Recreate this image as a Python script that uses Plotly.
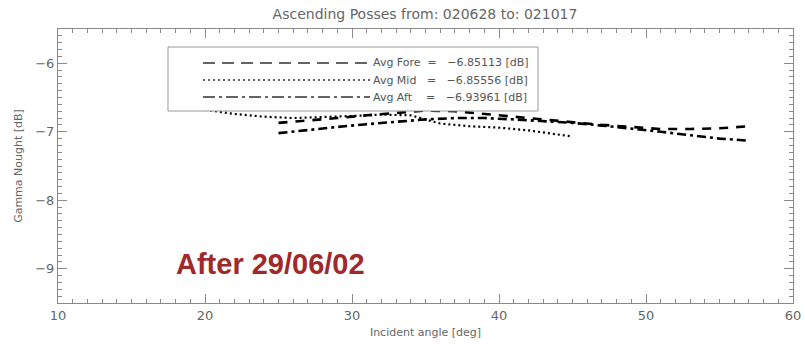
import plotly.graph_objects as go

# ---- data ----
fore_x = [25, 27, 29, 31, 33, 35, 37, 39, 41, 43, 45, 47, 49, 51, 53, 55, 57]
fore_y = [-6.87, -6.84, -6.80, -6.76, -6.72, -6.69, -6.70, -6.74, -6.79, -6.83,
          -6.87, -6.90, -6.93, -6.96, -6.96, -6.95, -6.92]

mid_x = [19, 20, 22, 24, 26, 28, 30, 32, 34, 35, 36, 38, 40, 42, 44, 45]
mid_y = [-6.64, -6.68, -6.74, -6.78, -6.80, -6.79, -6.77, -6.75, -6.76, -6.82,
         -6.88, -6.92, -6.94, -6.98, -7.04, -7.07]

aft_x = [25, 27, 29, 31, 33, 35, 37, 39, 41, 43, 45, 47, 49, 51, 53, 55, 57]
aft_y = [-7.02, -6.97, -6.93, -6.89, -6.85, -6.82, -6.80, -6.80, -6.82, -6.84,
         -6.87, -6.91, -6.95, -7.00, -7.05, -7.10, -7.13]

legend_labels = ["Avg Fore  =   \u22126.85113 [dB]",
                 "Avg Mid   =   \u22126.85556 [dB]",
                 "Avg Aft    =   \u22126.93961 [dB]"]

title_text = "Ascending Posses from: 020628 to: 021017"
x_title = "Incident angle [deg]"
y_title = "Gamma Nought [dB]"
note_text = "After 29/06/02"

GRAY = "#666666"
AXIS = "#8a8a8a"
FONT = "DejaVu Sans, Liberation Sans, sans-serif"

fig = go.Figure()
fig.add_trace(go.Scatter(x=fore_x, y=fore_y, mode="lines",
                         line=dict(color="black", width=2.6, dash="9px,8px"),
                         showlegend=False))
fig.add_trace(go.Scatter(x=mid_x, y=mid_y, mode="lines",
                         line=dict(color="black", width=2.2, dash="2px,3px"),
                         showlegend=False))
fig.add_trace(go.Scatter(x=aft_x, y=aft_y, mode="lines",
                         line=dict(color="black", width=2.6, dash="9px,4px,3px,4px"),
                         showlegend=False))

# Manual legend box (IDL style)
PW, PH = 735, 274
fig.add_shape(type="rect", xref="paper", yref="paper",
              x0=(168 - 58) / PW, x1=(538 - 58) / PW,
              y0=(303 - 111) / PH, y1=(303 - 47) / PH,
              line=dict(color="#999999", width=1), fillcolor="white", layer="above")
dashes = ["12px,7px", "2px,3px", "12px,4px,3px,4px"]
rows_y = [63, 80, 97]
for lab, d, ry in zip(legend_labels, dashes, rows_y):
    yp = (303 - ry) / PH
    fig.add_shape(type="line", xref="paper", yref="paper",
                  x0=(203 - 58) / PW, x1=(370 - 58) / PW, y0=yp, y1=yp,
                  line=dict(color="#333333", width=1.6, dash=d), layer="above")
    fig.add_annotation(xref="paper", yref="paper", x=(371 - 58) / PW, y=yp,
                       text=lab, showarrow=False, xanchor="left", yanchor="middle",
                       font=dict(family=FONT, size=11, color="#555555"))

fig.add_annotation(x=17.9, y=-8.93, xref="x", yref="y", text="<b>" + note_text + "</b>",
                   showarrow=False, xanchor="left", yanchor="middle",
                   font=dict(family="Liberation Sans, Arial", size=29, color="#9e2a2b"))

fig.update_layout(
    width=805, height=344,
    margin=dict(l=58, r=12, t=29, b=41, autoexpand=False),
    paper_bgcolor="white", plot_bgcolor="white",
    title=dict(text=title_text, x=425 / 805, xanchor="center", y=1 - 14 / 344,
               yanchor="middle", font=dict(family=FONT, size=14, color=GRAY)),
    font=dict(family=FONT, color=GRAY),
)
fig.update_xaxes(range=[10, 60], tickvals=[10, 20, 30, 40, 50, 60], automargin=False,
                 showgrid=False, zeroline=False, showline=True, linecolor=AXIS,
                 linewidth=1, mirror="ticks", ticks="inside", ticklen=9,
                 tickcolor=AXIS, tickfont=dict(size=13, color=GRAY),
                 minor=dict(dtick=1, ticks="inside", ticklen=4, tickcolor=AXIS, showgrid=False),
                 title=dict(text=x_title, font=dict(size=11, color=GRAY), standoff=6))
fig.update_yaxes(range=[-9.5, -5.5], tickvals=[-9, -8, -7, -6], automargin=False,
                 showgrid=False, zeroline=False, showline=True, linecolor=AXIS,
                 linewidth=1, mirror="ticks", ticks="inside", ticklen=9,
                 tickcolor=AXIS, tickfont=dict(size=13, color=GRAY),
                 minor=dict(dtick=0.1, ticks="inside", ticklen=4, tickcolor=AXIS, showgrid=False),
                 title=dict(text=y_title, font=dict(size=11, color=GRAY), standoff=10))

fig.write_html("out.html", config={"displayModeBar": False},
               post_script="document.body.style.margin='0';document.body.style.overflow='hidden';")
